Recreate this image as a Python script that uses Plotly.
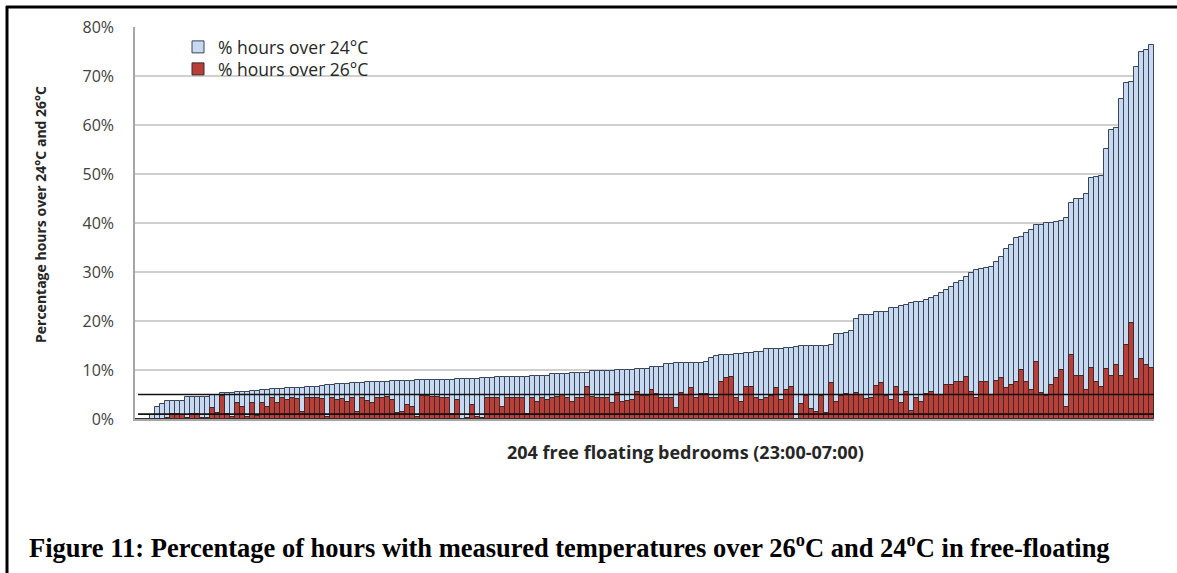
import plotly.graph_objects as go

# ---- data ----
bedrooms = list(range(1, 205))

over24 = [
    0, 0, 0, 0.8, 2.5, 3.1, 3.7, 3.7, 3.7, 3.7,
    4.5, 4.5, 4.5, 4.5, 4.5, 4.8, 4.9, 5.3, 5.4, 5.4,
    5.5, 5.5, 5.6, 5.7, 5.8, 6.0, 6.0, 6.1, 6.1, 6.2,
    6.3, 6.3, 6.4, 6.4, 6.5, 6.5, 6.6, 6.7, 6.9, 6.9,
    7.1, 7.2, 7.2, 7.3, 7.4, 7.4, 7.5, 7.6, 7.6, 7.6,
    7.6, 7.7, 7.8, 7.8, 7.8, 7.8, 7.9, 8.0, 8.0, 8.0,
    8.0, 8.0, 8.0, 8.0, 8.1, 8.1, 8.1, 8.1, 8.2, 8.3,
    8.3, 8.3, 8.5, 8.5, 8.5, 8.5, 8.6, 8.6, 8.6, 8.8,
    8.8, 8.8, 8.8, 9.1, 9.1, 9.1, 9.1, 9.3, 9.3, 9.3,
    9.3, 9.7, 9.7, 9.7, 9.7, 9.7, 10.1, 10.1, 10.1, 10.1,
    10.3, 10.3, 10.3, 10.6, 10.6, 10.6, 11.2, 11.2, 11.4, 11.4,
    11.4, 11.4, 11.4, 11.4, 11.7, 12.4, 12.9, 13.1, 13.1, 13.1,
    13.2, 13.2, 13.5, 13.5, 13.7, 13.7, 14.2, 14.2, 14.2, 14.2,
    14.4, 14.4, 14.6, 15.0, 15.0, 15.0, 15.0, 15.0, 15.0, 15.1,
    17.3, 17.3, 17.5, 18.0, 20.4, 21.2, 21.2, 21.2, 21.9, 21.9,
    21.9, 22.6, 22.6, 23.0, 23.3, 23.7, 23.8, 23.9, 24.2, 24.6,
    25.2, 25.8, 26.4, 26.9, 27.8, 28.2, 29.0, 29.7, 30.4, 30.6,
    30.9, 31.1, 32.0, 33.0, 34.6, 35.5, 36.9, 37.2, 38.0, 38.6,
    39.6, 39.6, 39.9, 40.1, 40.3, 40.4, 41.0, 44.0, 44.8, 45.0,
    46.0, 49.1, 49.3, 49.5, 55.2, 59.0, 59.3, 65.4, 68.6, 68.8,
    71.9, 74.8, 75.3, 76.3,
]

over26 = [
    0, 0, 0, 0, 0, 0, 0.3, 1.0, 1.0, 0.9,
    0.3, 1.0, 1.0, 0.3, 0.2, 2.2, 1.2, 4.7, 1.0, 0.5,
    3.2, 2.5, 0.5, 3.2, 0.6, 3.2, 2.5, 4.2, 3.2, 4.2,
    3.9, 4.2, 4.0, 1.5, 4.2, 4.2, 4.2, 4.0, 0.5, 4.2,
    3.8, 4.0, 3.5, 4.2, 1.5, 4.2, 3.7, 3.3, 4.2, 4.2,
    4.5, 3.9, 1.2, 1.5, 2.9, 2.5, 0.5, 4.7, 4.7, 4.4,
    4.5, 4.2, 4.2, 1.0, 3.9, 0.1, 0.2, 2.9, 0.5, 0.2,
    4.2, 4.2, 4.2, 2.5, 4.2, 4.2, 4.2, 4.2, 1.0, 4.2,
    3.5, 4.2, 3.9, 4.2, 4.5, 4.9, 4.2, 3.5, 4.2, 4.2,
    6.6, 4.5, 4.2, 4.2, 4.2, 3.2, 5.4, 3.4, 3.7, 3.9,
    5.6, 4.6, 4.6, 5.9, 5.2, 4.2, 4.2, 4.2, 2.2, 5.3,
    4.9, 6.3, 4.2, 5.1, 5.1, 4.2, 4.2, 7.6, 8.3, 8.6,
    4.2, 3.5, 6.6, 6.6, 4.2, 3.9, 4.2, 4.6, 6.3, 3.9,
    5.9, 6.6, 0.1, 3.1, 4.6, 2.0, 1.5, 4.6, 1.2, 7.3,
    3.5, 4.6, 5.2, 4.9, 5.3, 5.0, 4.1, 4.3, 6.7, 7.3,
    4.6, 3.9, 6.6, 3.2, 5.6, 1.6, 4.2, 3.5, 5.1, 5.5,
    5.0, 5.0, 7.0, 7.0, 7.5, 7.6, 8.6, 5.6, 4.2, 7.5,
    7.5, 4.8, 7.7, 8.3, 6.3, 6.9, 7.6, 10.1, 7.6, 5.9,
    11.7, 5.4, 4.7, 6.9, 8.3, 10.0, 2.5, 13.1, 8.8, 8.8,
    5.9, 10.5, 7.6, 6.6, 10.3, 8.8, 11.0, 8.8, 15.1, 19.5,
    8.1, 12.2, 11.0, 10.5,
]

thresholds = [5, 1]
y_ticks = [0, 10, 20, 30, 40, 50, 60, 70, 80]
y_tick_labels = [f"{v}%" for v in y_ticks]

series_names = ["% hours over 24°C", "% hours over 26°C"]
x_title = "204 free floating bedrooms (23:00-07:00)"
y_title = "Percentage hours over 24°C and 26°C"
caption = ("Figure 11: Percentage of hours with measured temperatures over "
           "26<sup>o</sup>C and 24<sup>o</sup>C in free-floating")

# ---- layout geometry (pixels) ----
W, H = 1177, 573
ML, MR, MT, MB = 135, 23, 27, 154
PW = W - ML - MR
PH = H - MT - MB


def px(x):
    return (x - ML) / PW


def py(y):
    return (H - MB - y) / PH


fig = go.Figure()
fig.add_trace(go.Bar(
    x=bedrooms, y=over24, name=series_names[0], legend="legend",
    marker=dict(color="#c6d9f1", line=dict(color="#3a4657", width=1)),
))
fig.add_trace(go.Bar(
    x=bedrooms, y=over26, name=series_names[1], legend="legend2",
    marker=dict(color="#bb3f39", line=dict(color="#3a2a2a", width=1)),
))

shapes = []
for t in thresholds:
    shapes.append(dict(type="line", xref="paper", yref="y", x0=0.003, x1=1.0,
                       y0=t, y1=t, line=dict(color="#111111", width=1.6),
                       layer="above"))
# document frame (left and top border)
shapes.append(dict(type="line", xref="paper", yref="paper",
                   x0=px(7), x1=px(7), y0=py(6), y1=py(H + 5),
                   line=dict(color="black", width=3)))
shapes.append(dict(type="line", xref="paper", yref="paper",
                   x0=px(6), x1=px(W + 5), y0=py(7), y1=py(7),
                   line=dict(color="black", width=3)))

annotations = [
    dict(text=f"<b>{x_title}</b>", xref="paper", yref="paper",
         x=px(685), y=py(452), xanchor="center", yanchor="middle",
         showarrow=False,
         font=dict(family="Open Sans", size=18, color="#262626")),
    dict(text=f"<b>{y_title}</b>", xref="paper", yref="paper",
         x=px(40), y=py(215), xanchor="center", yanchor="middle",
         showarrow=False, textangle=-90,
         font=dict(family="Open Sans", size=14, color="#262626")),
    dict(text=f"<b>{caption}</b>", xref="paper", yref="paper",
         x=px(27), y=py(546), xanchor="left", yanchor="middle",
         showarrow=False,
         font=dict(family="Liberation Serif", size=26.5, color="black")),
]

legend_style = dict(xanchor="left", yanchor="top",
                    bgcolor="rgba(255,255,255,0)", itemwidth=30,
                    font=dict(family="Open Sans", size=17.5, color="#262626"))

fig.update_layout(
    width=W, height=H,
    margin=dict(l=ML, r=MR, t=MT, b=MB, pad=0),
    paper_bgcolor="white", plot_bgcolor="white",
    barmode="overlay", bargap=0,
    showlegend=True,
    legend=dict(x=px(178), y=py(29), **legend_style),
    legend2=dict(x=px(178), y=py(51), **legend_style),
    xaxis=dict(range=[0.5, 204.5], showticklabels=False, ticks="",
               showgrid=False, zeroline=False, showline=True,
               linecolor="#a6a6a6", linewidth=1.5),
    yaxis=dict(range=[0, 80], tickvals=y_ticks, ticktext=y_tick_labels,
               showgrid=True, gridcolor="#cfcfcf", gridwidth=2,
               zeroline=False, showline=True, linecolor="#a6a6a6",
               linewidth=1.5, ticks="outside", ticklen=16,
               tickcolor="rgba(0,0,0,0)",
               tickfont=dict(family="Open Sans", size=16, color="#404040")),
    shapes=shapes,
    annotations=annotations,
)

fig.write_html("out.html",
               config={"displayModeBar": False},
               post_script="document.body.style.margin='0';"
                           "document.body.style.padding='0';")
